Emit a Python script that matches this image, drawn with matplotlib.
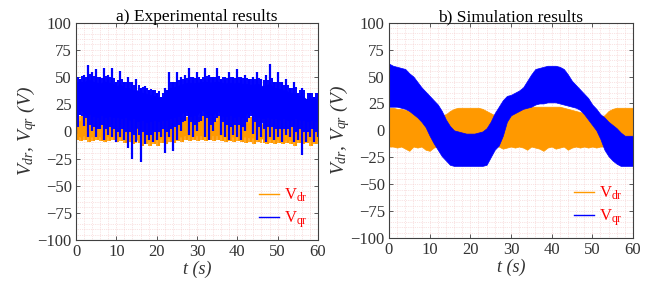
import numpy as np
import matplotlib
matplotlib.use("Agg")
import matplotlib.pyplot as plt
from matplotlib.ticker import MultipleLocator

plt.rcParams['font.family'] = ['Liberation Serif', 'DejaVu Serif']
plt.rcParams['mathtext.fontset'] = 'custom'
plt.rcParams['mathtext.rm'] = 'Liberation Serif'
plt.rcParams['mathtext.it'] = 'Liberation Serif:italic'

# time base (s), 1 s steps
t = np.arange(0, 61)

# ---- a) experimental: dense body + spike extremes ----
exp_vqr_hi = [45, 46, 45, 48, 46, 45, 44, 46, 45, 44, 42, 43, 40, 40, 38, 38, 36, 35, 34, 33,
              32, 30, 33, 40, 40, 42, 43, 44, 45, 44, 45, 45, 46, 45, 45, 46, 45, 44, 45, 44,
              45, 44, 44, 43, 43, 44, 42, 42, 44, 40, 40, 38, 38, 35, 36, 33, 33, 30, 30, 30, 30]
exp_vqr_lo = [10, 20, 18, 12, 10, 8, 12, 8, 10, 8, 5, 8, 5, 5, 3, 3, 5, 3, 3, 5,
              5, 8, 5, 8, 10, 12, 15, 20, 15, 12, 15, 20, 18, 12, 15, 20, 15, 12, 10, 12,
              12, 10, 15, 20, 15, 10, 8, 10, 10, 8, 8, 8, 8, 10, 5, 8, 5, 5, 8, 5, 8]
exp_vqr_pk = [50, 48, 52, 61, 55, 57, 50, 58, 52, 58, 45, 56, 45, 50, 45, 48, 40, 42, 38, 38,
              35, 32, 40, 55, 45, 55, 50, 52, 58, 50, 55, 48, 58, 52, 50, 58, 48, 50, 55, 50,
              57, 50, 52, 48, 50, 55, 48, 52, 62, 45, 55, 45, 48, 40, 45, 35, 40, 30, 35, 32, 35]
exp_vqr_dip = [-2, 15, 5, -5, 0, -5, 2, -8, -3, -5, -10, -5, -8, -15, -25, -10, -28, -12, -8, -10,
               -8, -5, -20, -5, -18, -8, 0, 10, -3, -5, 0, 10, -5, -8, 0, 12, -3, -5, -8, -3,
               -5, -8, 0, 12, -2, -8, -5, -10, -5, -8, -5, -10, -3, -5, -10, -8, -22, -10, -5, -10, -5]

exp_vdr_hi = [9, 10, 8, 10, 9, 8, 10, 9, 8, 9, 8, 7, 8, 6, 7, 5, 5, 4, 4, 5,
              5, 6, 6, 7, 8, 9, 10, 10, 9, 10, 10, 11, 10, 10, 10, 10, 10, 9, 10, 9,
              9, 9, 8, 9, 8, 8, 7, 8, 7, 7, 6, 7, 6, 6, 7, 6, 6, 5, 6, 5, 6]
exp_vdr_lo = [-4, -5, -4, -5, -5, -4, -5, -5, -5, -5, -5, -6, -6, -7, -7, -8, -8, -9, -9, -8,
              -8, -7, -7, -6, -6, -5, -5, -4, -4, -4, -4, -4, -4, -4, -4, -4, -4, -5, -5, -5,
              -5, -5, -5, -6, -6, -6, -7, -7, -7, -7, -8, -8, -8, -8, -8, -8, -8, -8, -8, -8, -8]
exp_vdr_pk = [13, 14, 12, 15, 13, 12, 14, 12, 13, 12, 12, 11, 12, 10, 11, 9, 10, 8, 9, 10,
              9, 10, 10, 11, 12, 13, 14, 13, 13, 14, 13, 14, 13, 14, 13, 14, 13, 13, 14, 12,
              13, 12, 12, 13, 12, 12, 11, 12, 11, 11, 10, 11, 10, 10, 11, 10, 10, 9, 10, 9, 10]
exp_vdr_dip = [-8, -9, -8, -10, -9, -8, -9, -10, -9, -8, -10, -9, -11, -10, -12, -11, -13, -12, -13, -12,
               -13, -11, -12, -10, -11, -9, -10, -8, -9, -8, -9, -8, -9, -8, -9, -8, -9, -10, -9, -10,
               -9, -10, -11, -10, -12, -10, -11, -12, -11, -12, -11, -12, -11, -12, -13, -11, -12, -11, -13, -12, -12]

# ---- b) simulation: band limits ----
sim_vqr_hi = [62, 60, 59, 58, 57, 53, 50, 45, 40, 36, 32, 28, 24, 18, 10, 4, 0, -1, -2, -3,
              -3, -3, -2, -1, 2, 8, 16, 22, 28, 32, 33, 35, 37, 40, 46, 52, 57, 58, 59, 60,
              60, 60, 59, 57, 52, 46, 42, 38, 34, 30, 24, 20, 15, 12, 8, 5, 2, -2, -5, -5, -5]
sim_vqr_lo = [22, 22, 22, 21, 20, 18, 15, 12, 8, 3, -5, -12, -18, -24, -28, -32, -33, -33, -33, -33,
              -33, -33, -33, -33, -32, -25, -18, -14, -5, 8, 14, 16, 18, 20, 21, 22, 24, 25, 25, 26,
              26, 26, 25, 24, 23, 22, 21, 19, 15, 10, 5, 0, -8, -18, -24, -28, -31, -33, -33, -33, -33]
sim_vdr_hi = [21, 21, 20, 20, 19, 18, 18, 17, 17, 16, 16, 15, 14, 14, 15, 18, 20, 21, 21, 21,
              21, 21, 21, 20, 18, 16, 14, 13, 15, 18, 20, 21, 22, 22, 22, 22, 22, 22, 22, 22,
              22, 22, 22, 21, 20, 19, 18, 17, 16, 15, 14, 13, 13, 14, 18, 20, 21, 21, 21, 21, 21]
sim_vdr_lo = [-15, -15, -16, -15, -17, -19, -15, -16, -15, -18, -19, -16, -15, -15, -15, -15, -15, -15, -15, -15,
              -15, -15, -15, -15, -15, -15, -15, -15, -17, -16, -15, -16, -15, -16, -18, -15, -16, -17, -19, -16,
              -15, -17, -16, -15, -18, -16, -15, -16, -15, -16, -15, -16, -15, -15, -15, -15, -15, -15, -15, -15, -15]

orange = '#ff9900'
blue = '#0000ff'
grey = '#404040'


def style_axes(ax, title):
    ax.set_xlim(0, 60)
    ax.set_ylim(-100, 100)
    ax.xaxis.set_major_locator(MultipleLocator(10))
    ax.yaxis.set_major_locator(MultipleLocator(25))
    ax.xaxis.set_minor_locator(MultipleLocator(2))
    ax.yaxis.set_minor_locator(MultipleLocator(5))
    ax.grid(which='both', color='#f4c8c8', linestyle=':', linewidth=0.5)
    ax.tick_params(which='major', direction='in', top=True, right=True,
                   length=3, width=0.6, labelsize=12, colors=grey, labelcolor='#333333', pad=3)
    ax.tick_params(which='minor', length=0)
    for s in ax.spines.values():
        s.set_color(grey)
        s.set_linewidth(0.8)
    ax.set_title(title, fontsize=12.5, pad=1)
    ax.set_xlabel('t (s)', fontsize=13, style='italic', labelpad=0, color='#333333')
    ax.set_ylabel('$V_{dr}$, $V_{qr}$ (V)', fontsize=14, style='italic', labelpad=-1, color='#333333')
    ax.set_axisbelow(True)


def add_legend(ax, labels):
    h1, = ax.plot([], [], color=orange, lw=1)
    h2, = ax.plot([], [], color=blue, lw=1)
    leg = ax.legend([h1, h2], labels, loc='lower right', frameon=False,
                    handlelength=1.2, handletextpad=0.3, labelspacing=0.3,
                    fontsize=12, borderaxespad=0.2)
    for txt in leg.get_texts():
        txt.set_color('red')


fig = plt.figure(figsize=(6.61, 2.91), dpi=100)
ax1 = fig.add_axes([0.115, 0.175, 0.366, 0.747])
ax2 = fig.add_axes([0.5885, 0.182, 0.369, 0.740])

# a) experimental
ax1.fill_between(t, exp_vdr_lo, exp_vdr_hi, color=orange, lw=0)
ax1.vlines(t + 0.5, exp_vdr_dip, exp_vdr_pk, color=orange, lw=1.5)
ax1.vlines(t, exp_vdr_dip, exp_vdr_pk, color=orange, lw=1.2)
ax1.fill_between(t, exp_vqr_lo, exp_vqr_hi, color=blue, lw=0.5, edgecolor=blue)
ax1.vlines(t, exp_vqr_dip, exp_vqr_pk, color=blue, lw=1.6)
ax1.vlines(t[:-1] + 0.5, np.array(exp_vqr_lo[:-1]) - 6, np.array(exp_vqr_hi[:-1]) + 5, color=blue, lw=1.4)
style_axes(ax1, 'a) Experimental results')
add_legend(ax1, [r'V$_{\mathregular{dr}}$', r'V$_{\mathregular{qr}}$'])

# b) simulation
ax2.fill_between(t, sim_vdr_lo, sim_vdr_hi, color=orange, lw=0.5, edgecolor=orange)
ax2.fill_between(t, sim_vqr_lo, sim_vqr_hi, color=blue, lw=0.5, edgecolor=blue)
style_axes(ax2, 'b) Simulation results')
add_legend(ax2, [r'V$_{\mathregular{dr}}$', r'V$_{\mathregular{qr}}$'])

fig.savefig('out.png', dpi=100)
